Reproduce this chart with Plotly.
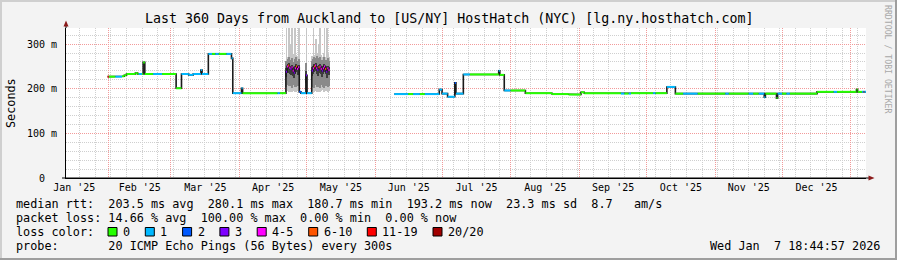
import plotly.graph_objects as go

# ---------------- data ----------------
TITLE = "Last 360 Days from Auckland to [US/NY] HostHatch (NYC) [lg.ny.hosthatch.com]"
X_START = "2025-01-12 18:44:57"
X_END = "2026-01-07 18:44:57"
Y_MAX = 336
Y_TICKS = [0, 100, 200, 300]
Y_TICK_TEXT = ["0\u00a0\u00a0", "100 m", "200 m", "300 m"]

LOSS_LABELS = ["0", "1", "2", "3", "4-5", "6-10", "11-19", "20/20"]
LOSS_COLORS = ["#26ff00", "#00b8ff", "#0059ff", "#7e00ff", "#ff00ff", "#ff5500", "#ff0000", "#a10000"]

# median rtt step segments: start time, median (ms), loss bucket index
SEG_START = [
    "2025-01-31 12:00", "2025-02-01 00:00", "2025-02-04 00:00", "2025-02-07 00:00", "2025-02-08 00:00",
    "2025-02-09 00:00", "2025-02-13 00:00", "2025-02-14 00:00", "2025-02-14 12:00", "2025-02-16 00:00",
    "2025-02-16 12:00", "2025-02-17 06:00", "2025-02-21 00:00", "2025-02-25 00:00", "2025-03-03 08:00",
    "2025-03-05 18:00", "2025-03-09 00:00", "2025-03-11 00:00", "2025-03-14 12:00", "2025-03-15 00:00",
    "2025-03-17 20:00", "2025-03-19 12:00", "2025-03-21 00:00", "2025-03-22 12:00", "2025-03-26 00:00",
    "2025-03-28 06:00", "2025-03-28 20:00", "2025-04-01 18:00", "2025-04-02 06:00", "2025-04-18 00:00",
    "2025-04-19 00:00",
    "2025-04-21 18:00", "2025-04-22 06:00", "2025-04-22 18:00", "2025-04-23 06:00", "2025-04-23 18:00",
    "2025-04-24 06:00", "2025-04-24 18:00", "2025-04-25 06:00", "2025-04-25 18:00", "2025-04-26 06:00",
    "2025-04-26 18:00", "2025-04-27 06:00",
    "2025-04-27 18:00", "2025-04-28 12:00", "2025-04-30 18:00", "2025-05-01 06:00",
    "2025-05-03 09:00", "2025-05-03 21:00", "2025-05-04 09:00", "2025-05-04 21:00", "2025-05-05 09:00",
    "2025-05-05 21:00", "2025-05-06 09:00", "2025-05-06 21:00", "2025-05-07 09:00", "2025-05-07 21:00",
    "2025-05-08 09:00", "2025-05-08 21:00", "2025-05-09 09:00", "2025-05-09 21:00", "2025-05-10 09:00",
    "2025-05-10 21:00", "2025-05-11 09:00",
    "2025-06-09 12:00", "2025-06-15 18:00", "2025-06-18 00:00", "2025-06-21 00:00", "2025-06-23 06:00",
    "2025-06-29 18:00", "2025-07-01 00:00", "2025-07-03 12:00", "2025-07-06 18:00", "2025-07-07 06:00",
    "2025-07-10 14:00", "2025-07-13 12:00", "2025-07-26 12:00", "2025-07-27 00:00", "2025-07-29 00:00",
    "2025-07-31 18:00", "2025-08-07 12:00", "2025-08-19 12:00", "2025-08-27 00:00", "2025-09-01 12:00",
    "2025-09-03 00:00", "2025-09-19 12:00", "2025-09-21 00:00", "2025-09-23 00:00", "2025-09-24 00:00",
    "2025-10-04 00:00", "2025-10-05 00:00", "2025-10-10 04:00", "2025-10-14 00:00", "2025-10-17 12:00",
    "2025-10-24 00:00", "2025-11-05 12:00", "2025-11-07 00:00", "2025-11-16 00:00", "2025-11-18 00:00",
    "2025-11-20 12:00", "2025-11-23 00:00", "2025-11-23 12:00", "2025-11-28 12:00", "2025-11-29 00:00",
    "2025-12-01 00:00", "2025-12-03 00:00", "2025-12-04 12:00", "2025-12-16 18:00", "2025-12-24 06:00",
    "2025-12-25 18:00", "2026-01-03 12:00", "2026-01-04 00:00", "2026-01-06 00:00", "2026-01-06 18:00",
    "2026-01-07 00:00", "2026-01-07 18:44",
]
SEG_RTT = [
    227, 227, 227, 228, 230,
    233, 235, 233, 233, 233,
    259, 233, 233, 233, 201,
    233, 231, 233, 242, 233,
    278, 278, 278, 278, 278,
    268, 190, 201, 190, 190,
    190,
    238, 250, 252, 247, 244,
    248, 240, 236, 246, 250,
    244, 248,
    193, 190, 230, 190,
    240, 246, 250, 252, 246,
    242, 248, 250, 244, 240,
    246, 250, 244, 238, 246,
    242, None,
    188, 188, 188, 188, 188,
    198, 189, 182, 213, 189,
    232, 232, 240, 231, 196,
    196, 190, 188, 187, 192,
    190, 189, 189, 189, 190,
    190, 190, 204, 189, 189,
    189, 189, 189, 189, 189,
    189, 181, 189, 179, 189,
    189, 189, 189, 193, 193,
    193, 198, 193, 193, 193,
    193, None,
]
SEG_LOSS = [
    6, 0, 1, 0, 0,
    0, 0, 0, 1, 0,
    0, 0, 1, 0, 0,
    1, 1, 1, 1, 1,
    1, 0, 1, 0, 1,
    1, 1, 1, 0, 1,
    0,
    3, 4, 5, 4, 3,
    4, 4, 3, 4, 5,
    4, 4,
    2, 1, 3, 1,
    3, 4, 5, 4, 4,
    3, 5, 4, 4, 3,
    4, 4, 5, 3, 4,
    4, None,
    1, 0, 1, 0, 1,
    1, 1, 1, 2, 1,
    1, 0, 1, 0, 1,
    0, 0, 0, 0, 0,
    0, 1, 0, 1, 0,
    1, 0, 1, 0, 1,
    0, 1, 0, 1, 0,
    1, 1, 0, 0, 1,
    0, 1, 0, 0, 1,
    0, 0, 0, 1, 6,
    1, None,
]

# smoke (ping spread) per 12h bin: bin centre, min, dense-low, core-low, core-high, dense-high, max (ms)
SMOKE_T = [
    "2025-04-22 00:00", "2025-04-22 12:00", "2025-04-23 00:00", "2025-04-23 12:00", "2025-04-24 00:00",
    "2025-04-24 12:00", "2025-04-25 00:00", "2025-04-25 12:00", "2025-04-26 00:00", "2025-04-26 12:00",
    "2025-04-27 00:00", "2025-04-27 12:00",
    "2025-05-01 00:00",
    "2025-05-03 15:00", "2025-05-04 03:00", "2025-05-04 15:00", "2025-05-05 03:00", "2025-05-05 15:00",
    "2025-05-06 03:00", "2025-05-06 15:00", "2025-05-07 03:00", "2025-05-07 15:00", "2025-05-08 03:00",
    "2025-05-08 15:00", "2025-05-09 03:00", "2025-05-09 15:00", "2025-05-10 03:00", "2025-05-10 15:00",
    "2025-05-11 03:00",
]
SMOKE_MIN = [192, 194, 193, 195, 193, 192, 194, 196, 193, 192, 194, 193,
             191,
             194, 193, 192, 195, 193, 196, 193, 192, 195, 197, 193, 192, 194, 196, 193, 194]
SMOKE_LO = [203, 208, 205, 210, 206, 202, 209, 212, 204, 203, 207, 205,
            198,
            206, 204, 202, 208, 203, 210, 204, 202, 208, 212, 204, 202, 206, 210, 203, 206]
SMOKE_CORE_LO = [226, 236, 238, 234, 230, 236, 228, 224, 234, 238, 230, 236,
                 212,
                 228, 234, 238, 240, 234, 228, 236, 238, 232, 226, 234, 238, 232, 224, 234, 230]
SMOKE_CORE_HI = [246, 255, 258, 252, 250, 254, 248, 244, 252, 256, 250, 254,
                 240,
                 248, 252, 256, 258, 252, 248, 254, 256, 250, 246, 252, 256, 250, 244, 252, 248]
SMOKE_HI = [262, 266, 270, 262, 264, 268, 260, 256, 266, 270, 262, 266,
            258,
            262, 266, 272, 268, 274, 260, 268, 270, 264, 258, 264, 270, 264, 258, 268, 262]
SMOKE_MAX = [345, 272, 345, 276, 300, 345, 270, 278, 345, 276, 272, 345,
             345,
             274, 345, 276, 312, 280, 270, 300, 345, 276, 270, 280, 345, 270, 345, 278, 272]

LEGEND_ROWS = [
    "median rtt:  203.5 ms avg  280.1 ms max  180.7 ms min  193.2 ms now  23.3 ms sd  8.7   am/s",
    "packet loss: 14.66 % avg  100.00 % max  0.00 % min  0.00 % now",
    "loss color:",
    "probe:       20 ICMP Echo Pings (56 Bytes) every 300s",
]
STAMP = "Wed Jan  7 18:44:57 2026"
WATERMARK = "RRDTOOL / TOBI OETIKER"

# ---------------- layout geometry (pixels) ----------------
W, H = 897, 260
ML, MR, MT, MB = 66, 31, 28, 82
PW, PH = W - ML - MR, H - MT - MB
MONO = "DejaVu Sans Mono"


def px(x):
    return (x - ML) / PW


def py(y):
    return (H - MB - y) / PH


def nb(s):
    return s.replace(" ", "\u00a0")


fig = go.Figure()

# smoke bars (light outer spread, medium dense part, dark core)
BIN_MS = 12 * 3600 * 1000
for lo_arr, hi_arr, col, wfrac in [(SMOKE_MIN, SMOKE_MAX, "#c6c6c6", 0.75),
                                   (SMOKE_LO, SMOKE_HI, "#8a8a8a", 1.0),
                                   (SMOKE_CORE_LO, SMOKE_CORE_HI, "#3c3c3c", 1.0)]:
    fig.add_trace(go.Bar(x=SMOKE_T, y=[b - a for a, b in zip(lo_arr, hi_arr)], base=lo_arr,
                         width=BIN_MS * wfrac, marker=dict(color=col, line=dict(width=0)),
                         hoverinfo="skip", showlegend=False))

# black step line (risers)
bx, by = [], []
for i in range(len(SEG_START) - 1):
    if SEG_RTT[i] is None:
        bx.append(None)
        by.append(None)
        continue
    bx += [SEG_START[i], SEG_START[i + 1]]
    by += [SEG_RTT[i], SEG_RTT[i]]
fig.add_trace(go.Scatter(x=bx, y=by, mode="lines", line=dict(color="#1a1a1a", width=1.6),
                         connectgaps=False, hoverinfo="skip", showlegend=False))

# colored median segments by loss
for k, col in enumerate(LOSS_COLORS):
    cx, cy = [], []
    for i in range(len(SEG_START) - 1):
        if SEG_LOSS[i] == k:
            cx += [SEG_START[i], SEG_START[i + 1], None]
            cy += [SEG_RTT[i], SEG_RTT[i], None]
    if cx:
        fig.add_trace(go.Scatter(x=cx, y=cy, mode="lines", line=dict(color=col, width=2),
                                 hoverinfo="skip", showlegend=False))

MAJOR_GRID = "#f29a9a"
MINOR_GRID = "#cfcfcf"

fig.update_layout(
    width=W, height=H,
    margin=dict(l=ML, r=MR, t=MT, b=MB, pad=0),
    paper_bgcolor="#f3f3f3", plot_bgcolor="#ffffff",
    barmode="overlay", bargap=0,
    font=dict(family=MONO, color="#000000", size=10),
    xaxis=dict(
        type="date", range=[X_START, X_END],
        tick0="2025-01-01", dtick="M1", tickformat="%b '%y", ticklabelmode="period",
        showgrid=True, gridcolor=MAJOR_GRID, griddash="1px,1px", gridwidth=1,
        ticks="", showline=True, linecolor="#000000", linewidth=1, zeroline=False,
        tickfont=dict(family=MONO, size=10, color="#000000"),
        minor=dict(tick0="2025-01-12", dtick=7 * 86400000, showgrid=True,
                   gridcolor=MINOR_GRID, griddash="1px,1px", gridwidth=1),
        fixedrange=True,
    ),
    yaxis=dict(
        range=[0, Y_MAX], tickmode="array", tickvals=Y_TICKS, ticktext=Y_TICK_TEXT,
        showgrid=True, gridcolor=MAJOR_GRID, griddash="1px,1px", gridwidth=1,
        ticks="", ticklabelstandoff=6, showline=True, linecolor="#000000", linewidth=1,
        zeroline=False, tickfont=dict(family=MONO, size=10, color="#000000"),
        minor=dict(dtick=20, tick0=0, showgrid=True, gridcolor=MINOR_GRID,
                   griddash="1px,1px", gridwidth=1),
        fixedrange=True,
    ),
)

shapes = []
# frame (3D border)
shapes.append(dict(type="rect", xref="paper", yref="paper", x0=px(0), x1=px(W), y0=py(0), y1=py(2),
                   fillcolor="#cfcfcf", line=dict(width=0), layer="above"))
shapes.append(dict(type="rect", xref="paper", yref="paper", x0=px(0), x1=px(2), y0=py(0), y1=py(H),
                   fillcolor="#cfcfcf", line=dict(width=0), layer="above"))
shapes.append(dict(type="rect", xref="paper", yref="paper", x0=px(0), x1=px(W), y0=py(H - 2), y1=py(H),
                   fillcolor="#9e9e9e", line=dict(width=0), layer="above"))
shapes.append(dict(type="rect", xref="paper", yref="paper", x0=px(W - 2), x1=px(W), y0=py(0), y1=py(H),
                   fillcolor="#9e9e9e", line=dict(width=0), layer="above"))
# axis extensions and arrows
shapes.append(dict(type="line", xref="paper", yref="paper", x0=0, x1=0, y0=1, y1=py(23),
                   line=dict(color="#000000", width=1)))
shapes.append(dict(type="line", xref="paper", yref="paper", x0=px(62), x1=px(869), y0=0, y1=0,
                   line=dict(color="#000000", width=1)))
shapes.append(dict(type="path", xref="paper", yref="paper",
                   path=f"M {px(63.5)} {py(26.5)} L {px(68.5)} {py(26.5)} L {px(66)} {py(20.5)} Z",
                   fillcolor="#8b1a1a", line=dict(width=0)))
shapes.append(dict(type="path", xref="paper", yref="paper",
                   path=f"M {px(868.5)} {py(175.5)} L {px(868.5)} {py(180.5)} L {px(874.5)} {py(178)} Z",
                   fillcolor="#8b1a1a", line=dict(width=0)))

ann = []
ann.append(dict(text=nb(TITLE), x=px(448.5), y=py(19), xref="paper", yref="paper", showarrow=False,
                xanchor="center", yanchor="middle", font=dict(family=MONO, size=13.3, color="#000000")))
ann.append(dict(text="Seconds", x=px(10.5), y=py(102.5), xref="paper", yref="paper", showarrow=False,
                textangle=-90, xanchor="center", yanchor="middle",
                font=dict(family=MONO, size=11.8, color="#000000")))
ann.append(dict(text=WATERMARK, x=px(887.5), y=py(59.5), xref="paper", yref="paper", showarrow=False,
                textangle=90, xanchor="center", yanchor="middle",
                font=dict(family=MONO, size=8.2, color="#a8a8a8")))
row_y = [204, 218, 232, 246]
for txt, yy in zip(LEGEND_ROWS, row_y):
    ann.append(dict(text=nb(txt), x=px(16), y=py(yy), xref="paper", yref="paper", showarrow=False,
                    xanchor="left", yanchor="middle", borderpad=0, borderwidth=0,
                    font=dict(family=MONO, size=11.8, color="#000000")))
ann.append(dict(text=nb(STAMP), x=px(880), y=py(246), xref="paper", yref="paper", showarrow=False,
                xanchor="right", yanchor="middle", borderpad=0, borderwidth=0,
                font=dict(family=MONO, size=11.8, color="#000000")))

# loss colour legend swatches
sx = 108.0
for lab, col in zip(LOSS_LABELS, LOSS_COLORS):
    shapes.append(dict(type="rect", xref="paper", yref="paper", x0=px(sx), x1=px(sx + 9),
                       y0=py(236), y1=py(227.5), fillcolor=col,
                       line=dict(color="#000000", width=1), layer="above"))
    tx = sx + 15
    ann.append(dict(text=lab, x=px(tx), y=py(232), xref="paper", yref="paper", showarrow=False,
                    xanchor="left", yanchor="middle", borderpad=0, borderwidth=0,
                    font=dict(family=MONO, size=11.8, color="#000000")))
    sx = tx + len(lab) * 7.1 + 15.2

fig.update_layout(shapes=shapes, annotations=ann)
fig.write_html("out.html")
